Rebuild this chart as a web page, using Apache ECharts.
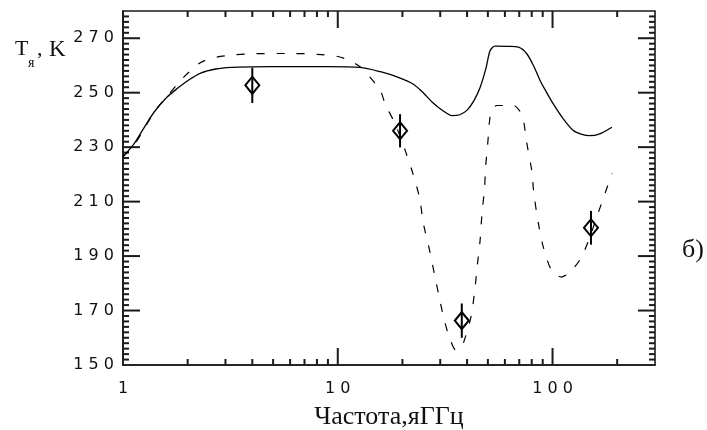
<!DOCTYPE html>
<html>
<head>
<meta charset="utf-8">
<script src="https://cdn.jsdelivr.net/npm/echarts@6/dist/echarts.min.js"></script>
<style>
  html, body { margin: 0; padding: 0; background: #fff; }
  #chart { width: 707px; height: 430px; }
</style>
</head>
<body>
<div id="chart"></div>
<script>
// model 1 (solid curve)
var freqSolid = [1, 1.12, 1.25, 1.4, 1.6, 1.8, 2.0, 2.3, 2.7, 3.2, 4, 6, 9, 12.7, 15.8, 19, 22.4, 25, 27.8, 31, 34, 37, 40, 43, 46, 49, 51.2, 54, 62, 69.4, 76, 82, 87.6, 94, 100.6, 112, 125, 137, 149, 166, 189];
var tempSolid = [226.5, 231, 237, 243, 248.3, 251.7, 254.4, 257.2, 258.7, 259.3, 259.5, 259.6, 259.6, 259.3, 257.7, 255.7, 253.2, 250, 246.2, 243.3, 241.6, 241.9, 243.6, 247, 251.9, 259, 265.4, 267.1, 267, 266.7, 264.2, 259.5, 254.4, 250, 246, 240.5, 236.1, 234.7, 234.2, 234.9, 237.3];

// model 2 (dashed curve)
var freqDashed = [1, 1.12, 1.25, 1.4, 1.6, 1.88, 2.29, 2.7, 3.2, 4, 6, 8, 10, 11.4, 12.7, 14, 15.8, 16.6, 18.5, 20.6, 22.4, 24, 25.1, 26.7, 28.2, 29.8, 31.6, 33.5, 35.5, 37.5, 39, 41.7, 43.4, 44.6, 46, 46.9, 48.2, 48.8, 49.9, 51.7, 55, 60, 66, 70, 72.8, 76, 80, 81.9, 86, 90.6, 99, 110, 123, 139, 169, 189];
var tempDashed = [226.5, 230.5, 236.5, 243, 248.5, 255, 261, 263, 263.8, 264.3, 264.4, 264.1, 263.3, 261.7, 259.5, 256, 250.7, 246, 238.5, 228.8, 220.2, 211.5, 201.6, 192.5, 183.3, 174.2, 165.4, 159, 155.5, 156.5, 159.5, 167.7, 177.1, 186.3, 195.8, 205.3, 214.5, 222.6, 231.2, 243, 245.3, 245.3, 245.3, 243.5, 240.9, 231.2, 221.4, 212.9, 201.9, 193.3, 184.8, 182.3, 184.8, 190.9, 209.3, 220.3];

// measurements with error bars
var freqObs = [4, 19.5, 37.8, 151];
var tempObs = [252.7, 236, 166.3, 200.4];
var tempLow = [246.2, 229.9, 160, 194.2];
var tempHigh = [259.2, 242.1, 172.6, 206.6];

// axes
var freqMin = 1, freqMax = 300;
var freqMajorTicks = [10, 100];
var freqMinorTicks = [2, 3, 4, 5, 6, 7, 8, 9, 20, 30, 40, 50, 60, 70, 80, 90, 200];
var tempMin = 150, tempMax = 280, tempStep = 20, tempMinorStep = 2, tempLastLabel = 270;

function zip(a, b, c) {
    return a.map(function (v, i) {
        return c ? [v, b[i], c[i]] : [v, b[i]];
    });
}

// "270" -> "2 7 0"
function spaced(v) {
    return String(Math.round(v)).split('').join(' ');
}

var axisColor = '#1a1a1a';
var labelFont = { fontFamily: 'DejaVu Sans', fontSize: 16, color: '#111' };
var majorLen = 17, minorLen = 6;

// tick lists for the frame: [freq, temp, isMajor]
var freqTicks = freqMajorTicks.concat(freqMinorTicks).map(function (v) {
    return [v, tempMin, freqMajorTicks.indexOf(v) >= 0 ? 1 : 0];
});
var tempTicks = [];
for (var k = tempMin + tempMinorStep; k < tempMax; k += tempMinorStep) {
    tempTicks.push([freqMin, k, (k - tempMin) % tempStep === 0 ? 1 : 0]);
}

// one custom series per frame side, tick drawn from the edge inwards
function tickSeries(data, side) {
    return {
        type: 'custom',
        data: data,
        encode: { x: 0, y: 1 },
        renderItem: function (params, api) {
            var len = api.value(2) ? majorLen : minorLen;
            var p;
            if (side === 'bottom' || side === 'top') {
                p = api.coord([api.value(0), side === 'bottom' ? tempMin : tempMax]);
                var dy = side === 'bottom' ? -len : len;
                return { type: 'line', shape: { x1: p[0], y1: p[1], x2: p[0], y2: p[1] + dy }, style: { stroke: axisColor, lineWidth: 2 } };
            }
            p = api.coord([side === 'left' ? freqMin : freqMax, api.value(1)]);
            var dx = side === 'left' ? len : -len;
            return { type: 'line', shape: { x1: p[0], y1: p[1], x2: p[0] + dx, y2: p[1] }, style: { stroke: axisColor, lineWidth: 2 } };
        }
    };
}

function serifText(text, left, top, size) {
    return {
        text: text, left: left, top: top, padding: 0,
        textStyle: { fontFamily: 'Liberation Serif', fontSize: size, fontWeight: 'normal', color: '#111' }
    };
}

var chart = echarts.init(document.getElementById('chart'));

chart.setOption({
    animation: false,
    title: [
        serifText('T', 15, 38, 22),
        serifText('я', 28, 56, 14),
        serifText(',', 37, 38, 22),
        serifText('K', 49, 38, 23),
        serifText('б)', 682, 237, 26)
    ],
    grid: {
        left: 123, right: 52, top: 11, bottom: 65,
        outerBoundsMode: 'none',
        show: true,
        borderColor: axisColor,
        borderWidth: 1.6
    },
    xAxis: {
        type: 'log',
        logBase: 10,
        min: freqMin,
        max: freqMax,
        axisLine: { onZero: false, lineStyle: { color: axisColor, width: 1.6 } },
        axisTick: { show: false },
        axisLabel: Object.assign({
            margin: 16,
            formatter: function (v) {
                var p = Math.log(v) / Math.LN10;
                return Math.abs(p - Math.round(p)) < 1e-6 ? spaced(v) : '';
            }
        }, labelFont),
        splitLine: { show: false },
        name: 'Частота,яГГц',
        nameLocation: 'middle',
        nameGap: 39,
        nameTextStyle: { fontFamily: 'Liberation Serif', fontSize: 26, color: '#111' }
    },
    yAxis: {
        type: 'value',
        min: tempMin,
        max: tempMax,
        interval: tempStep,
        axisLine: { show: true, lineStyle: { color: axisColor, width: 1.6 } },
        axisTick: { show: false },
        axisLabel: Object.assign({
            margin: 9,
            formatter: function (v) {
                return v > tempLastLabel ? '' : spaced(v);
            }
        }, labelFont),
        splitLine: { show: false }
    },
    series: [
        tickSeries(freqTicks, 'bottom'),
        tickSeries(freqTicks, 'top'),
        tickSeries(tempTicks, 'left'),
        tickSeries(tempTicks, 'right'),
        {
            type: 'line',
            data: zip(freqSolid, tempSolid),
            smooth: 0.3,
            showSymbol: false,
            lineStyle: { color: '#000', width: 1.3 }
        },
        {
            type: 'line',
            data: zip(freqDashed, tempDashed),
            smooth: 0.3,
            showSymbol: false,
            lineStyle: { color: '#000', width: 1.2, type: [8, 12] }
        },
        {
            // error bars
            type: 'custom',
            data: zip(freqObs, tempLow, tempHigh),
            encode: { x: 0, y: [1, 2] },
            renderItem: function (params, api) {
                var lo = api.coord([api.value(0), api.value(1)]);
                var hi = api.coord([api.value(0), api.value(2)]);
                return {
                    type: 'line',
                    shape: { x1: lo[0], y1: lo[1], x2: hi[0], y2: hi[1] },
                    style: { stroke: '#000', lineWidth: 2 }
                };
            }
        },
        {
            type: 'scatter',
            data: zip(freqObs, tempObs),
            symbol: 'diamond',
            symbolSize: [14, 17],
            itemStyle: { color: 'rgba(0,0,0,0)', borderColor: '#000', borderWidth: 2, opacity: 1 },
            z: 4
        }
    ]
});
</script>
</body>
</html>
